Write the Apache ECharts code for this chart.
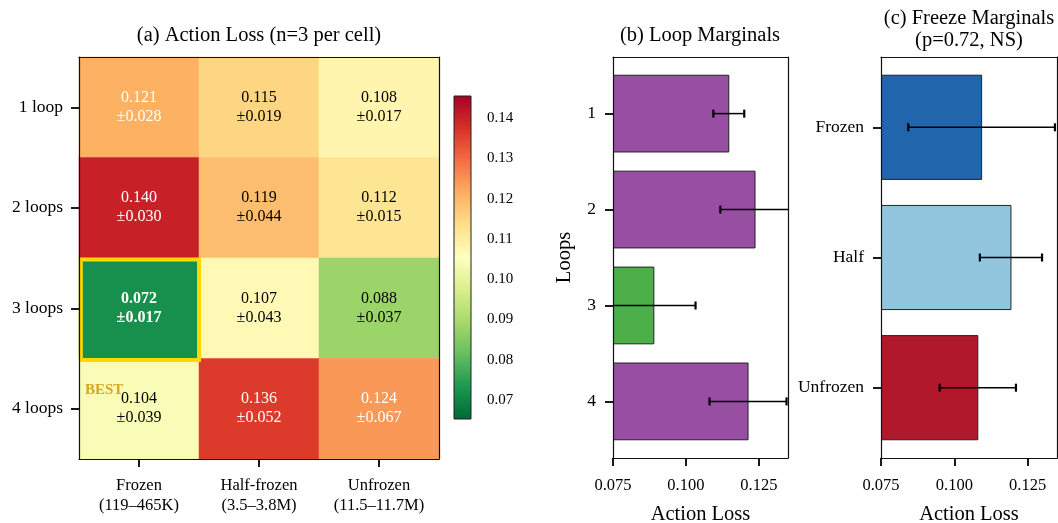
<!DOCTYPE html>
<html>
<head>
<meta charset="utf-8">
<script src="https://cdn.jsdelivr.net/npm/echarts@6/dist/echarts.min.js"></script>
<style>
html, body { margin: 0; padding: 0; background: #fff; }
#main { width: 1058px; height: 523px; }
</style>
</head>
<body>
<div id="main"></div>
<script>
// heatmap data (rows = loops, cols = freeze setting)
var freezeLabels = ['Frozen\n(119–465K)', 'Half-frozen\n(3.5–3.8M)', 'Unfrozen\n(11.5–11.7M)'];
var loopLabels = ['1 loop', '2 loops', '3 loops', '4 loops'];
var lossMean = [
    [0.121, 0.115, 0.108],
    [0.140, 0.119, 0.112],
    [0.072, 0.107, 0.088],
    [0.104, 0.136, 0.124]
];
var lossStd = [
    [0.028, 0.019, 0.017],
    [0.030, 0.044, 0.015],
    [0.017, 0.043, 0.037],
    [0.039, 0.052, 0.067]
];
var bestCell = [0, 2]; // col, row
var colorMin = 0.0653;
var colorMax = 0.1455;
var colorTicks = [0.07, 0.08, 0.09, 0.10, 0.11, 0.12, 0.13, 0.14];

// marginals
var loopCats = ['1', '2', '3', '4'];
var loopMarg = [0.1147, 0.1237, 0.0890, 0.1213];
var loopMargErr = [0.0053, 0.0119, 0.0143, 0.0132];
var loopColors = ['#984ea3', '#984ea3', '#4daf4a', '#984ea3'];
var freezeCats = ['Frozen', 'Half', 'Unfrozen'];
var freezeMarg = [0.1093, 0.1193, 0.1080];
var freezeMargErr = [0.0250, 0.0106, 0.0130];
var freezeColors = ['#2166ac', '#92c5de', '#b2182b'];
var lossTicks = [0.075, 0.100, 0.125];
var lossMin = 0.075, lossMax = 0.135;
var barHeight = 0.8;

// RdYlGn reversed (low = green)
var cmap = ['#006837', '#1a9850', '#66bd63', '#a6d96a', '#d9ef8b', '#ffffbf',
            '#fee08b', '#fdae61', '#f46d43', '#d73027', '#a50026'];

var FONT = '"Liberation Serif", "DejaVu Serif", serif';
var lineStyle = {color: '#111', width: 1.2};
var tickStyle = {color: '#000', width: 1.8};

var heatData = [];
for (var r = 0; r < lossMean.length; r++) {
    for (var c = 0; c < lossMean[r].length; c++) {
        var v = lossMean[r][c];
        var isBest = (c === bestCell[0] && r === bestCell[1]);
        heatData.push({
            value: [c, r, v],
            label: {
                color: (v > 0.12 || v < 0.08) ? '#fff' : '#000',
                fontWeight: isBest ? 'bold' : 'normal'
            }
        });
    }
}

function frameAxis(type, gridIndex, pos, extra) {
    var a = {
        type: type, gridIndex: gridIndex, position: pos, z: 10,
        axisLine: {show: true, onZero: false, lineStyle: lineStyle},
        axisTick: {show: false}, axisLabel: {show: false}, splitLine: {show: false}
    };
    for (var k in extra) { a[k] = extra[k]; }
    return a;
}

function lossXAxis(gridIndex) {
    return {
        type: 'value', gridIndex: gridIndex, min: lossMin, max: lossMax, z: 10,
        name: 'Action Loss', nameLocation: 'middle', nameGap: 46,
        nameTextStyle: {fontSize: 20.5, color: '#000', fontFamily: FONT},
        axisLine: {show: true, onZero: false, lineStyle: lineStyle},
        axisTick: {show: true, length: 8, customValues: lossTicks, lineStyle: tickStyle},
        axisLabel: {
            fontSize: 16.5, color: '#000', margin: 19, customValues: lossTicks,
            formatter: function (v) { return v.toFixed(3); }
        },
        splitLine: {show: false}
    };
}

// category-like value axis, padded like matplotlib barh (5% margins)
function barYAxis(gridIndex, cats, extra) {
    var idx = [];
    for (var i = 0; i < cats.length; i++) { idx.push(i); }
    var pad = barHeight / 2 + 0.05 * (cats.length - 1 + barHeight);
    var a = {
        type: 'value', gridIndex: gridIndex, inverse: true, z: 10,
        min: -pad, max: cats.length - 1 + pad,
        axisLine: {show: true, onZero: false, lineStyle: lineStyle},
        axisTick: {show: true, length: 8, customValues: idx, lineStyle: tickStyle},
        axisLabel: {
            fontSize: 17.5, color: '#000', margin: 17, customValues: idx,
            formatter: function (v) { return cats[Math.round(v)]; }
        },
        splitLine: {show: false}
    };
    for (var k in extra) { a[k] = extra[k]; }
    return a;
}

function barRender(colors) {
    return function (params, api) {
        var v = api.value(0), c = api.value(1);
        var p0 = api.coord([lossMin, c - barHeight / 2]);
        var p1 = api.coord([v, c + barHeight / 2]);
        return {
            type: 'rect',
            shape: {
                x: Math.min(p0[0], p1[0]), y: Math.min(p0[1], p1[1]),
                width: Math.abs(p1[0] - p0[0]), height: Math.abs(p1[1] - p0[1])
            },
            style: {fill: colors[params.dataIndex], stroke: '#222', lineWidth: 1}
        };
    };
}

function errorRender(params, api) {
    var m = api.value(0), c = api.value(1), e = api.value(2);
    var a = api.coord([m - e, c]);
    var b = api.coord([m + e, c]);
    var cap = 4;
    return {
        type: 'group',
        children: [
            {type: 'line', shape: {x1: a[0], y1: a[1], x2: b[0], y2: b[1]}, style: {stroke: '#000', lineWidth: 1.5}},
            {type: 'line', shape: {x1: a[0], y1: a[1] - cap, x2: a[0], y2: a[1] + cap}, style: {stroke: '#000', lineWidth: 2.2}},
            {type: 'line', shape: {x1: b[0], y1: b[1] - cap, x2: b[0], y2: b[1] + cap}, style: {stroke: '#000', lineWidth: 2.2}}
        ]
    };
}

function pairData(vals, errs) {
    var out = [];
    for (var i = 0; i < vals.length; i++) { out.push([vals[i], i, errs[i]]); }
    return out;
}

var stops = [];
for (var i = 0; i < cmap.length; i++) {
    stops.push({offset: i / (cmap.length - 1), color: cmap[i]});
}

function titleText(x, y, txt) {
    return {
        type: 'text', x: x, y: y, silent: true,
        style: {text: txt, font: '20.5px ' + FONT, fill: '#000', align: 'center', verticalAlign: 'middle', lineHeight: 22}
    };
}

var chart = echarts.init(document.getElementById('main'));
var option = {
    animation: false,
    backgroundColor: '#fff',
    textStyle: {fontFamily: FONT, color: '#000'},
    graphic: [
        titleText(259, 36, '(a) Action Loss (n=3 per cell)'),
        titleText(700, 36, '(b) Loop Marginals'),
        titleText(969, 30, '(c) Freeze Marginals\n(p=0.72, NS)')
    ],
    visualMap: {
        show: false, type: 'continuous', min: colorMin, max: colorMax,
        seriesIndex: 0, dimension: 2, inRange: {color: cmap}
    },
    grid: [
        {left: 79, top: 57, width: 360, height: 402, outerBoundsMode: 'none', containLabel: false},
        {left: 454, top: 96, width: 17, height: 323, outerBoundsMode: 'none', containLabel: false},
        {left: 613, top: 57, width: 175, height: 401, outerBoundsMode: 'none', containLabel: false},
        {left: 881, top: 57, width: 176, height: 401, outerBoundsMode: 'none', containLabel: false}
    ],
    xAxis: [
        {
            type: 'category', gridIndex: 0, data: freezeLabels, z: 10,
            axisLine: {show: true, lineStyle: lineStyle},
            axisTick: {show: true, alignWithLabel: true, length: 8, lineStyle: tickStyle},
            axisLabel: {fontSize: 16.5, lineHeight: 20, color: '#000', margin: 17},
            splitLine: {show: false}
        },
        frameAxis('category', 0, 'top', {data: freezeLabels}),
        {type: 'value', gridIndex: 1, min: 0, max: 1, show: false},
        lossXAxis(2),
        frameAxis('value', 2, 'top', {min: lossMin, max: lossMax}),
        lossXAxis(3),
        frameAxis('value', 3, 'top', {min: lossMin, max: lossMax})
    ],
    yAxis: [
        {
            type: 'category', gridIndex: 0, data: loopLabels, inverse: true, z: 10,
            axisLine: {show: true, onZero: false, lineStyle: lineStyle},
            axisTick: {show: true, alignWithLabel: true, length: 8, lineStyle: tickStyle},
            axisLabel: {fontSize: 17.5, color: '#000', margin: 16},
            splitLine: {show: false}
        },
        frameAxis('category', 0, 'right', {data: loopLabels, inverse: true}),
        {
            type: 'value', gridIndex: 1, min: colorMin, max: colorMax, position: 'right',
            axisLine: {show: false},
            axisTick: {show: true, length: 8, customValues: colorTicks, lineStyle: tickStyle},
            axisLabel: {
                fontSize: 15, color: '#000', margin: 16, customValues: colorTicks,
                formatter: function (v) { return v.toFixed(2); }
            },
            splitLine: {show: false}
        },
        barYAxis(2, loopCats, {
            name: 'Loops', nameLocation: 'middle', nameGap: 38, nameRotate: 90,
            nameTextStyle: {fontSize: 20.5, color: '#000', fontFamily: FONT}
        }),
        frameAxis('value', 2, 'right', {min: 0, max: 1}),
        barYAxis(3, freezeCats, {}),
        frameAxis('value', 3, 'right', {min: 0, max: 1})
    ],
    series: [
        {
            type: 'heatmap', xAxisIndex: 0, yAxisIndex: 0, data: heatData,
            itemStyle: {borderWidth: 0},
            emphasis: {disabled: true},
            label: {
                show: true, fontSize: 16, lineHeight: 19, fontFamily: FONT,
                formatter: function (p) {
                    return p.value[2].toFixed(3) + '\n±' + lossStd[p.value[1]][p.value[0]].toFixed(3);
                }
            }
        },
        {
            type: 'custom', xAxisIndex: 0, yAxisIndex: 0, z: 5, silent: true,
            data: [bestCell],
            renderItem: function (params, api) {
                var ctr = api.coord([api.value(0), api.value(1)]);
                var sz = api.size([1, 1]);
                var x0 = ctr[0] - sz[0] / 2, y0 = ctr[1] - sz[1] / 2;
                return {
                    type: 'group',
                    children: [
                        {type: 'rect', shape: {x: x0 + 1.8, y: y0 + 1.5, width: sz[0] - 1.8, height: sz[1]},
                         style: {fill: 'none', stroke: '#FFD700', lineWidth: 4}},
                        {type: 'text', x: x0 + 6, y: y0 + sz[1] * 1.31,
                         style: {text: 'BEST', fill: '#DAA520', font: 'bold 15px ' + FONT, verticalAlign: 'middle'}}
                    ]
                };
            }
        },
        {
            type: 'custom', xAxisIndex: 2, yAxisIndex: 2, silent: true,
            data: [[0, colorMin]],
            renderItem: function (params, api) {
                var p0 = api.coord([0, colorMin]);
                var p1 = api.coord([1, colorMax]);
                return {
                    type: 'rect',
                    shape: {x: p0[0], y: p1[1], width: p1[0] - p0[0], height: p0[1] - p1[1]},
                    style: {fill: new echarts.graphic.LinearGradient(0, 1, 0, 0, stops), stroke: '#222', lineWidth: 1}
                };
            }
        },
        {
            type: 'custom', xAxisIndex: 3, yAxisIndex: 3, clip: true, z: 2, silent: true,
            encode: {x: 0, y: 1},
            data: pairData(loopMarg, loopMargErr), renderItem: barRender(loopColors)
        },
        {
            type: 'custom', xAxisIndex: 3, yAxisIndex: 3, clip: true, z: 4, silent: true,
            encode: {x: 0, y: 1},
            data: pairData(loopMarg, loopMargErr), renderItem: errorRender
        },
        {
            type: 'custom', xAxisIndex: 5, yAxisIndex: 5, clip: true, z: 2, silent: true,
            encode: {x: 0, y: 1},
            data: pairData(freezeMarg, freezeMargErr), renderItem: barRender(freezeColors)
        },
        {
            type: 'custom', xAxisIndex: 5, yAxisIndex: 5, clip: true, z: 4, silent: true,
            encode: {x: 0, y: 1},
            data: pairData(freezeMarg, freezeMargErr), renderItem: errorRender
        }
    ]
};
chart.setOption(option);
</script>
</body>
</html>
